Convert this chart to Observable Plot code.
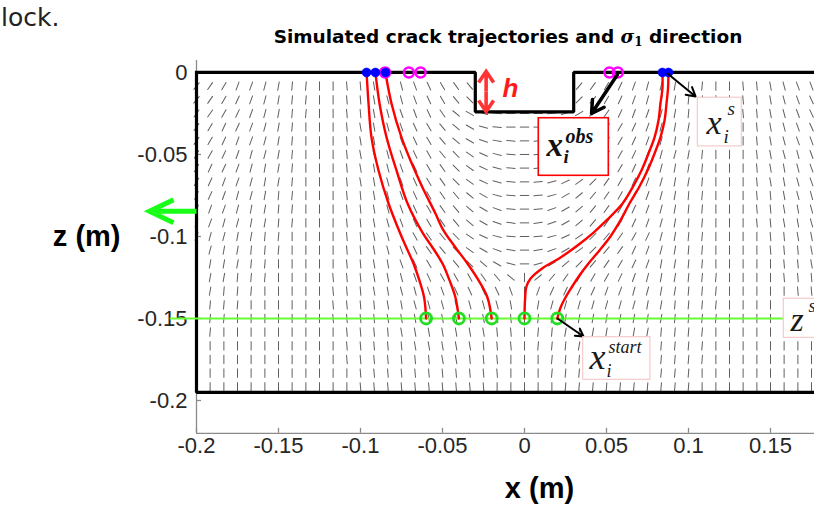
<!DOCTYPE html>
<html>
<head>
<meta charset="utf-8">
<script src="https://cdn.jsdelivr.net/npm/d3@7"></script>
<script src="https://cdn.jsdelivr.net/npm/@observablehq/plot@0.6"></script>
<style>
  html, body { margin: 0; padding: 0; background: #fff; }
  #wrap { position: relative; width: 814px; height: 516px; overflow: hidden; }
  #chart svg { display: block; }
  #lock { position: absolute; left: 1px; top: 6px; font: 25px/24px "DejaVu Sans"; color: #222; }
  #title { position: absolute; left: 508px; top: 28px; transform: translateX(-50%); white-space: nowrap;
           font: bold 18.5px/18px "DejaVu Sans"; color: #000; }
  #title i { font-family: "DejaVu Serif"; }
  #title sub { font-family: "DejaVu Serif"; font-size: 12px; line-height: 0; vertical-align: -3px; }
</style>
</head>
<body>
<div id="wrap">
  <div id="chart"></div>
  <div id="lock">lock.</div>
  <div id="title">Simulated crack trajectories and <i>σ</i><sub>1</sub> direction</div>
</div>
<script>
// ---------- axes ----------
const xTicks = [-0.2, -0.15, -0.1, -0.05, 0, 0.05, 0.1, 0.15];
const yTicks = [0, -0.05, -0.1, -0.15, -0.2];

// ---------- block outline (with notch of depth h) ----------
const blockX = [-0.2, -0.03, -0.03, 0.03, 0.03, 0.2, 0.2, -0.2, -0.2];
const blockZ = [0, 0, -0.024, -0.024, 0, 0, -0.195, -0.195, 0];

// ---------- points ----------
const startZ = -0.15;                                   // z^s
const startX = [-0.06, -0.04, -0.02, 0, 0.02];          // x_i^start
const surfaceX = [-0.0963, -0.0909, -0.0848, 0.0841, 0.0878]; // x_i^s (simulated)
const obsX = [-0.085, -0.0705, -0.0634, 0.0518, 0.0569];      // x_i^obs

// ---------- crack trajectories [x, z] ----------
const crack1 = [[-0.0963,0],[-0.0951,-0.0189],[-0.0933,-0.0396],[-0.0890,-0.0598],[-0.0829,-0.0799],[-0.0750,-0.1000],[-0.0677,-0.1165],[-0.0641,-0.1268],[-0.0612,-0.1372],[-0.0600,-0.1500]];
const crack2 = [[-0.0909,0],[-0.0884,-0.0189],[-0.0841,-0.0396],[-0.0780,-0.0598],[-0.0713,-0.0799],[-0.0622,-0.0976],[-0.0561,-0.1067],[-0.0500,-0.1165],[-0.0457,-0.1268],[-0.0421,-0.1372],[-0.0400,-0.1500]];
const crack3 = [[-0.0848,0],[-0.0811,-0.0189],[-0.0750,-0.0396],[-0.0695,-0.0537],[-0.0622,-0.0701],[-0.0543,-0.0860],[-0.0494,-0.0963],[-0.0421,-0.1067],[-0.0348,-0.1165],[-0.0280,-0.1268],[-0.0226,-0.1372],[-0.0200,-0.1500]];
const crack4 = [[0,-0.15],[0.0003,-0.1390],[0.0012,-0.1305],[0.0037,-0.1256],[0.0116,-0.1189],[0.0220,-0.1128],[0.0323,-0.1055],[0.0421,-0.0976],[0.0506,-0.0896],[0.0598,-0.0799],[0.0659,-0.0701],[0.0713,-0.0598],[0.0756,-0.0494],[0.0793,-0.0396],[0.0817,-0.0293],[0.0829,-0.0189],[0.0841,-0.0098],[0.0841,0]];
const crack5 = [[0.02,-0.15],[0.0220,-0.1433],[0.0250,-0.1372],[0.0287,-0.1311],[0.0335,-0.1238],[0.0390,-0.1165],[0.0457,-0.1085],[0.0524,-0.1000],[0.0585,-0.0902],[0.0640,-0.0799],[0.0701,-0.0695],[0.0750,-0.0598],[0.0793,-0.0494],[0.0829,-0.0396],[0.0854,-0.0293],[0.0866,-0.0189],[0.0875,-0.0098],[0.0878,0]];

// ---------- sigma_1 direction field ----------
const fieldCols = [-0.2000,-0.1917,-0.1833,-0.1750,-0.1667,-0.1583,-0.1500,-0.1417,-0.1333,-0.1250,-0.1167,-0.1083,-0.1000,-0.0917,-0.0833,-0.0750,-0.0667,-0.0583,-0.0500,-0.0417,-0.0333,-0.0250,-0.0167,-0.0083,0,0.0083,0.0167,0.0250,0.0333,0.0417,0.0500,0.0583,0.0667,0.0750,0.0833,0.0917,0.1000,0.1083,0.1167,0.1250,0.1333,0.1417,0.1500,0.1583,0.1667,0.1750];
const fieldRows = [-0.0083,-0.0167,-0.0250,-0.0333,-0.0417,-0.0500,-0.0583,-0.0667,-0.0750,-0.0833,-0.0917,-0.1000,-0.1083,-0.1167,-0.1250,-0.1333,-0.1417,-0.1500,-0.1583,-0.1667,-0.1750,-0.1833,-0.1917];
// angle from vertical in 5 degree steps: '0'=0, a..r = +5..+90 ("/"), A..R = -5..-90 ("\"), ' ' = no dash
const fieldAngles = [
  "hgfddcbaa00AABCCDEFGH       hgfedccbaa00AABCDD",
  "hgfedcbaa00AABCCDEFHI       ihfedccbaa00AABCDE",
  "ggfedcbaa00AABCDDEGJLOQrrrqoljgeddcbaa00AABCDE",
  "gfeedcba000ABBCDEFHJLOQrrrqoljhfedcbba000ABCDE",
  "gfeddcba000ABBCDEFHJLNPQrqpnljhfedcbba000ABCDD",
  "ffedccba000ABCCDEFHIKMOQrqomkihfedccba000ABCCD",
  "feedcbba000ABBCDEFGIKMOQrqomkigfedcbba000ABBCD",
  "feddcbba000ABBCDEFGIKMOQrqomkigfedcbba000ABBCD",
  "eedccbaa000AABCDEFGHJLOQrqoljhgfedcbaa000AABCC",
  "eddcbbaa000AABCDEFGHJLNQrqnljhgfedcbaa000AABBC",
  "ddccbbaa000AABCDEFGHJLNPrpnljhgfedcbaa000AABBC",
  "dccbbaa0000AABCEFGHIKMOQrqomkihgfecbaa0000AABB",
  "ccbbaaa0000AABCDEGHIKLNPrpnlkihgedcbaa0000AAAB",
  "cbbbaa00000AABBDEFGHIJLOroljihgfedbbaa00000AAB",
  "bbbaaa0000AAABBCDEFFFGHJ0jhgfffedcbbaaa0000AAA",
  "bbaaa00000AAABBCCDDEEEED0deeeeddccbbaaa00000AA",
  "aaaa000000AAAABBCCCCCCCB0bcccccccbbaaaa000000A",
  "aaa0000000AAAABBBBBBBBBA0abbbbbbbbbaaaa0000000",
  "aa000000000AAAABBBBBBBAA0aabbbbbbbaaaa00000000",
  "a0000000000AAAAABBBBBAAA0aaabbbbbaaaaa00000000",
  "00000000000AAAAAAABBAAA000aaabbaaaaaaa00000000",
  "000000000000AAAAAAAAAAA000aaaaaaaaaaa000000000",
  "000000000000AAAAAAAAAA00000aaaaaaaaaa000000000"
];

function charToAngle(c) {
  if (c === "0") return 0;
  const k = c.charCodeAt(0);
  return k >= 97 ? (k - 96) * 5 : -(k - 64) * 5;
}
const fieldPts = [];
fieldAngles.forEach((row, i) => {
  [...row].forEach((c, j) => {
    if (c === " " || j >= fieldCols.length) return;
    fieldPts.push({x: fieldCols[j], z: fieldRows[i], a: charToAngle(c)});
  });
});

const dashShape = {draw(ctx, l) { ctx.moveTo(0, 0); ctx.lineTo(0, -l); }};
const chevronArrow = (hl, hw) => ({draw(ctx, l) {
  ctx.moveTo(0, 0); ctx.lineTo(0, -l);
  ctx.moveTo(-hw, -l + hl); ctx.lineTo(0, -l); ctx.lineTo(hw, -l + hl);
}});

const blockPts = blockX.map((x, i) => ({x, z: blockZ[i]}));
const cracks = [crack1, crack2, crack3, crack4, crack5]
  .flatMap((c, k) => c.map(([x, z]) => ({x, z, k})));

// annotation boxes and arrows
const boxRed = [{x1: 0.0087, x2: 0.0514, z1: -0.0279, z2: -0.0630}];
const boxPink = [
  {x1: 0.1057, x2: 0.1325, z1: -0.0154, z2: -0.0451},
  {x1: 0.0358, x2: 0.0768, z1: -0.1614, z2: -0.1874},
  {x1: 0.1581, x2: 0.1900, z1: -0.1380, z2: -0.1618}
];
const blackArrows = [
  {x1: 0.0567, z1: -0.0012, x2: 0.0409, z2: -0.0250, w: 3.5, h: 6},
  {x1: 0.0872, z1: -0.0006, x2: 0.1043, z2: -0.0146, w: 2, h: 7.5},
  {x1: 0.0201, z1: -0.1500, x2: 0.0360, z2: -0.1610, w: 2, h: 6.5}
];
const serif = "Liberation Serif";
const annText = [
  {t: "x", x: 0.0134, z: -0.0512, s: 33, w: "bold", st: "italic", f: serif, c: "#111"},
  {t: "obs", x: 0.0250, z: -0.0433, s: 20, w: "bold", st: "italic", f: serif, c: "#111"},
  {t: "i", x: 0.0238, z: -0.0555, s: 19, w: "bold", st: "italic", f: serif, c: "#111"},
  {t: "h", x: -0.0134, z: -0.0152, s: 26, w: "bold", st: "italic", f: "Liberation Sans", c: "#ff1a1a"},
  {t: "x", x: 0.1110, z: -0.0378, s: 34, w: "normal", st: "italic", f: serif, c: "#1a1a1a"},
  {t: "s", x: 0.1238, z: -0.0262, s: 19, w: "normal", st: "italic", f: serif, c: "#1a1a1a"},
  {t: "i", x: 0.1213, z: -0.0427, s: 19, w: "normal", st: "italic", f: serif, c: "#1a1a1a"},
  {t: "x", x: 0.0396, z: -0.1805, s: 36, w: "normal", st: "italic", f: serif, c: "#1a1a1a"},
  {t: "start", x: 0.0512, z: -0.1713, s: 18, w: "normal", st: "italic", f: serif, c: "#1a1a1a"},
  {t: "i", x: 0.0500, z: -0.1854, s: 18, w: "normal", st: "italic", f: serif, c: "#1a1a1a"},
  {t: "z", x: 0.1622, z: -0.1579, s: 34, w: "normal", st: "italic", f: serif, c: "#1a1a1a"},
  {t: "s", x: 0.1732, z: -0.1463, s: 19, w: "normal", st: "italic", f: serif, c: "#1a1a1a"}
];

const axisGray = "#8a8a8a";
const chart = Plot.plot({
  width: 814, height: 516,
  marginLeft: 196, marginRight: 0, marginTop: 60, marginBottom: 83.2,
  x: {domain: [-0.2, 0.176829]},
  y: {domain: [-0.22, 0.0073]},
  style: {background: "white", fontFamily: "Liberation Sans", overflow: "hidden"},
  marks: [
    // stress direction field
    Plot.vector(fieldPts, {x: "x", y: "z", rotate: "a", length: 8.5, anchor: "middle",
      shape: dashShape, stroke: "#606060", strokeWidth: 1}),
    // axis lines + inward ticks
    Plot.ruleX([-0.2], {stroke: axisGray, strokeWidth: 1.3}),
    Plot.ruleY([-0.22], {stroke: axisGray, strokeWidth: 1.3}),
    Plot.tickX(xTicks, {x: d => d, insetTop: 367.8, stroke: axisGray, strokeWidth: 1.3}),
    Plot.tickY(yTicks, {y: d => d, insetRight: 613, stroke: axisGray, strokeWidth: 1.3}),
    Plot.axisX({ticks: xTicks, tickSize: 0, tickPadding: 4, tickFormat: d => String(d),
      fontSize: 22, fontFamily: "Liberation Sans", color: "#262626", label: null}),
    Plot.axisY({ticks: yTicks, tickSize: 0, tickPadding: 9, tickFormat: d => String(d),
      fontSize: 22, fontFamily: "Liberation Sans", color: "#262626", label: null}),
    // block outline
    Plot.line(blockPts, {x: "x", y: "z", stroke: "black", strokeWidth: 3.2, strokeLinejoin: "miter", strokeLinecap: "square"}),
    // z^s line
    Plot.ruleY([startZ], {x1: -0.216, x2: 0.159, stroke: "#66ff33", strokeWidth: 2.2}),
    // crack trajectories
    Plot.line(cracks, {x: "x", y: "z", z: "k", stroke: "#ff0000", strokeWidth: 2.4, curve: "catmull-rom"}),
    // start points
    Plot.dot(startX, {x: d => d, y: () => startZ, r: 5.5, stroke: "#22dd22", strokeWidth: 2.8, fill: "none"}),
    // observed points
    Plot.dot(obsX, {x: d => d, y: () => 0, r: 5, stroke: "#ff00ff", strokeWidth: 2.5, fill: "none"}),
    // simulated surface points
    Plot.dot(surfaceX, {x: d => d, y: () => 0, r: 4.5, fill: "#0000ff", stroke: "#0000ff", strokeWidth: 0.5}),
    // annotation arrows
    Plot.vector([0], {x: () => -0.2, y: () => -0.0846, length: 47, rotate: -90, anchor: "start",
      shape: chevronArrow(24, 11.5), stroke: "#1aff1a", strokeWidth: 5, strokeLinejoin: "miter", strokeLinecap: "butt"}),
    Plot.vector([0, 180], {x: () => -0.0234, y: () => -0.0116, length: 20, rotate: d => d, anchor: "start",
      shape: chevronArrow(11, 7.5), stroke: "#ff3333", strokeWidth: 3.6, strokeLinejoin: "miter", strokeLinecap: "butt"}),
    ...blackArrows.map(a => Plot.arrow([a], {x1: "x1", y1: "z1", x2: "x2", y2: "z2",
      stroke: "black", strokeWidth: a.w, headLength: a.h})),
    // annotation boxes
    Plot.rect(boxRed, {x1: "x1", x2: "x2", y1: "z1", y2: "z2", fill: "white", stroke: "#ff0000", strokeWidth: 1.6}),
    Plot.rect(boxPink, {x1: "x1", x2: "x2", y1: "z1", y2: "z2", fill: "white", stroke: "#f6caca", strokeWidth: 1.2}),
    ...annText.map(d => Plot.text([d], {x: "x", y: "z", text: "t", fontSize: d.s, fontWeight: d.w,
      fontStyle: d.st, fontFamily: d.f, fill: d.c, textAnchor: "start", lineAnchor: "bottom"})),
    // axis titles
    Plot.text(["z (m)"], {frameAnchor: "left", dx: -76, dy: -10, textAnchor: "end", fontSize: 29,
      fontWeight: "bold", fontFamily: "Liberation Sans", fill: "#000"}),
    Plot.text(["x (m)"], {frameAnchor: "bottom", dx: 34, dy: 65, fontSize: 29,
      fontWeight: "bold", fontFamily: "Liberation Sans", fill: "#000"})
  ]
});
document.getElementById("chart").appendChild(chart);
</script>
</body>
</html>
